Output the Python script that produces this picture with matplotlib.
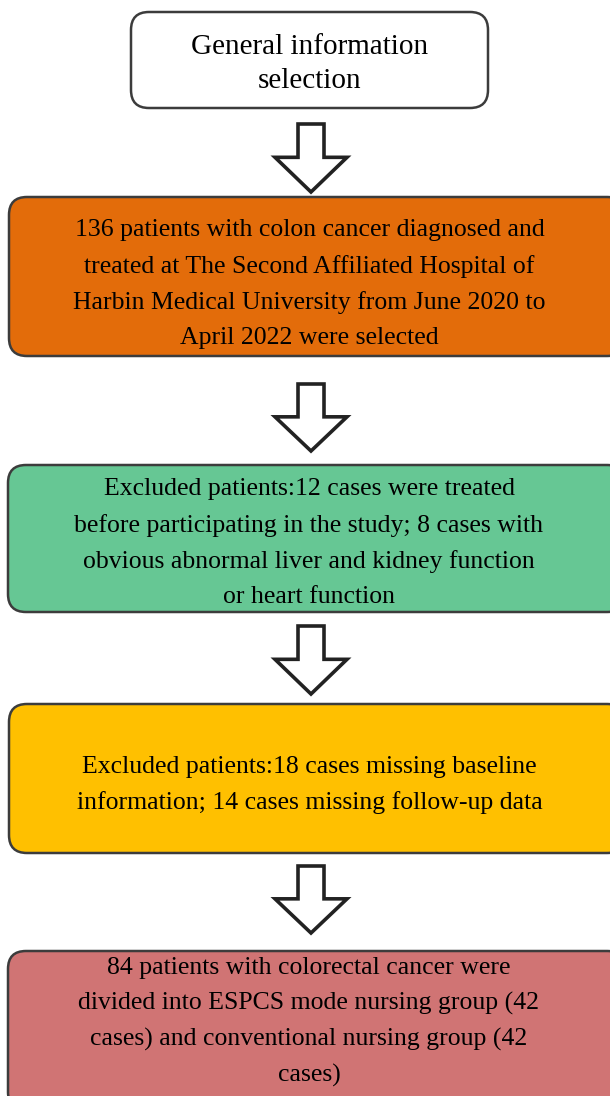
import matplotlib.pyplot as plt
from matplotlib.patches import FancyBboxPatch, Polygon

# box texts and fills, top to bottom
box_texts = [
    "General information\nselection",
    "136 patients with colon cancer diagnosed and\ntreated at The Second Affiliated Hospital of\n"
    "Harbin Medical University from June 2020 to\nApril 2022 were selected",
    "Excluded patients:12 cases were treated\nbefore participating in the study; 8 cases with\n"
    "obvious abnormal liver and kidney function\nor heart function",
    "Excluded patients:18 cases missing baseline\ninformation; 14 cases missing follow-up data",
    "84 patients with colorectal cancer were\ndivided into ESPCS mode nursing group (42\n"
    "cases) and conventional nursing group (42\ncases)",
]
box_colors = ["#FFFFFF", "#E36C0A", "#66C794", "#FFC000", "#D07474"]

# layout in pixels (x0, y0, x1, y1), text centre y, font size, line spacing
box_rects = [
    (131, 12, 488, 108),
    (9, 197, 625, 356),
    (8, 465, 625, 612),
    (9, 704, 625, 853),
    (8, 951, 625, 1110),
]
text_y = [64, 284, 543, 785, 1022]
text_fs = [21, 18.5, 18.5, 18.5, 18.5]
text_ls = [1.38, 1.74, 1.74, 1.74, 1.74]
arrow_spans = [(124, 192), (384, 451), (626, 694), (866, 933)]
cx = 311

fig = plt.figure(figsize=(6.1, 10.96), dpi=100)
ax = fig.add_axes([0, 0, 1, 1])
ax.set_xlim(0, 610)
ax.set_ylim(1096, 0)
ax.axis('off')

for i, ((x0, y0, x1, y1), txt, col) in enumerate(zip(box_rects, box_texts, box_colors)):
    box = FancyBboxPatch((x0, y0), x1 - x0, y1 - y0,
                         boxstyle="round,pad=0,rounding_size=18",
                         fc=col, ec="#3c3c3c", lw=1.8, zorder=2)
    ax.add_patch(box)
    xmid = (x0 + min(x1, 610)) / 2
    ax.text(xmid, text_y[i], txt, ha='center', va='center',
            fontsize=text_fs[i], family='Liberation Serif',
            linespacing=text_ls[i], zorder=3)

# hollow down arrows
for top, bot in arrow_spans:
    neck = top + (bot - top) * 0.49
    pts = [(cx - 13, top), (cx + 13, top), (cx + 13, neck), (cx + 36, neck),
           (cx, bot), (cx - 36, neck), (cx - 13, neck)]
    ax.add_patch(Polygon(pts, closed=True, fc='white', ec='#222222',
                         lw=2.6, joinstyle='miter', zorder=2))

fig.savefig("out.png", dpi=100)
